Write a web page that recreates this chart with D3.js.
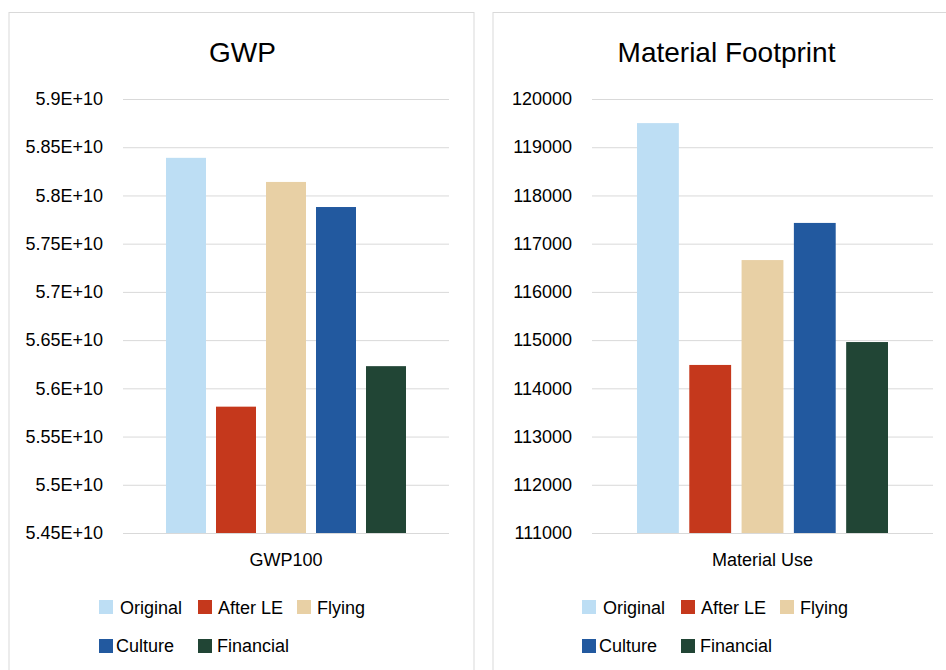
<!DOCTYPE html>
<html>
<head>
<meta charset="utf-8">
<script src="https://cdn.jsdelivr.net/npm/d3@7"></script>
<style>
  html, body { margin: 0; padding: 0; background: #ffffff; }
  svg { display: block; font-family: "Liberation Sans", Arial, sans-serif; }
</style>
</head>
<body>
<svg id="chart" width="946" height="670"></svg>
<script>
// ---------- data ----------
const seriesNames = ["Original", "After LE", "Flying", "Culture", "Financial"];
const seriesColors = ["#BDDEF4", "#C5381C", "#E8D0A5", "#22599F", "#214535"];

const gwpTitle = "GWP";
const gwpCategory = "GWP100";
const gwpValues = [5.839e10, 5.581e10, 5.814e10, 5.788e10, 5.623e10];
const gwpTicks = [5.45e10, 5.5e10, 5.55e10, 5.6e10, 5.65e10, 5.7e10, 5.75e10, 5.8e10, 5.85e10, 5.9e10];
const gwpTickLabels = ["5.45E+10", "5.5E+10", "5.55E+10", "5.6E+10", "5.65E+10", "5.7E+10", "5.75E+10", "5.8E+10", "5.85E+10", "5.9E+10"];

const matTitle = "Material Footprint";
const matCategory = "Material Use";
const matValues = [119500, 114485, 116660, 117430, 114960];
const matTicks = [111000, 112000, 113000, 114000, 115000, 116000, 117000, 118000, 119000, 120000];
const matTickLabels = ["111000", "112000", "113000", "114000", "115000", "116000", "117000", "118000", "119000", "120000"];

// ---------- drawing ----------
const svg = d3.select("#chart");

function drawPanel(opt) {
  const g = svg.append("g");
  // panel border
  g.append("rect")
    .attr("x", opt.px + 0.5).attr("y", 12.5)
    .attr("width", opt.pw).attr("height", 700)
    .attr("fill", "#fff").attr("stroke", "#D9D9D9").attr("stroke-width", 1);

  // title
  g.append("text")
    .attr("x", opt.px + opt.pw / 2 + 1.5).attr("y", 62)
    .attr("text-anchor", "middle")
    .attr("font-size", 28).attr("fill", "#000")
    .text(opt.title);

  const y = d3.scaleLinear()
    .domain([opt.ticks[0], opt.ticks[opt.ticks.length - 1]])
    .range([533, 99]);

  const x0 = d3.scaleBand().domain([opt.category]).range([opt.gx0, opt.gx1]).paddingInner(0).paddingOuter(0);
  const x1 = d3.scaleBand().domain(seriesNames)
    .range([x0(opt.category) + opt.groupPad, x0(opt.category) + x0.bandwidth() - opt.groupPad])
    .paddingInner(opt.innerPad).paddingOuter(0);

  // gridlines
  const yAxis = d3.axisLeft(y)
    .tickValues(opt.ticks)
    .tickSize(-(opt.gx1 - opt.gx0))
    .tickPadding(20)
    .tickFormat((d, i) => opt.tickLabels[i]);
  const ax = g.append("g").attr("transform", `translate(${opt.gx0},0)`).call(yAxis);
  ax.select(".domain").remove();
  ax.selectAll(".tick line").attr("stroke", "#D9D9D9").attr("stroke-width", 1);
  ax.selectAll(".tick text").attr("font-size", 18).attr("fill", "#000")
    .attr("font-family", "'Liberation Sans', Arial, sans-serif");

  // bars
  g.append("g").selectAll("rect")
    .data(opt.values)
    .join("rect")
    .attr("x", (d, i) => x1(seriesNames[i]))
    .attr("width", x1.bandwidth())
    .attr("y", d => y(d))
    .attr("height", d => y(opt.ticks[0]) - y(d))
    .attr("fill", (d, i) => seriesColors[i]);

  // category label
  g.append("text")
    .attr("x", x0(opt.category) + x0.bandwidth() / 2).attr("y", 566)
    .attr("text-anchor", "middle").attr("font-size", 18).attr("fill", "#000")
    .text(opt.category);

  // legend
  const legendPos = [
    { sx: 0, sy: 600, tx: 21, ty: 614 },
    { sx: 99, sy: 600, tx: 119, ty: 614 },
    { sx: 198, sy: 600, tx: 218, ty: 614 },
    { sx: 0, sy: 639, tx: 17, ty: 652 },
    { sx: 99, sy: 639, tx: 118, ty: 652 }
  ];
  const lg = g.append("g").attr("transform", `translate(${opt.lx},0)`);
  seriesNames.forEach((name, i) => {
    const p = legendPos[i];
    lg.append("rect").attr("x", p.sx).attr("y", p.sy).attr("width", 14).attr("height", 14)
      .attr("fill", seriesColors[i]);
    lg.append("text").attr("x", p.tx).attr("y", p.ty).attr("font-size", 18).attr("fill", "#000")
      .text(name);
  });
}

drawPanel({
  px: 8.5, pw: 465, title: gwpTitle, category: gwpCategory,
  values: gwpValues, ticks: gwpTicks, tickLabels: gwpTickLabels,
  gx0: 123, gx1: 449, groupPad: 43, innerPad: 0.2, lx: 99
});

drawPanel({
  px: 492.5, pw: 465, title: matTitle, category: matCategory,
  values: matValues, ticks: matTicks, tickLabels: matTickLabels,
  gx0: 592, gx1: 933, groupPad: 45, innerPad: 0.2, lx: 582
});
</script>
</body>
</html>
